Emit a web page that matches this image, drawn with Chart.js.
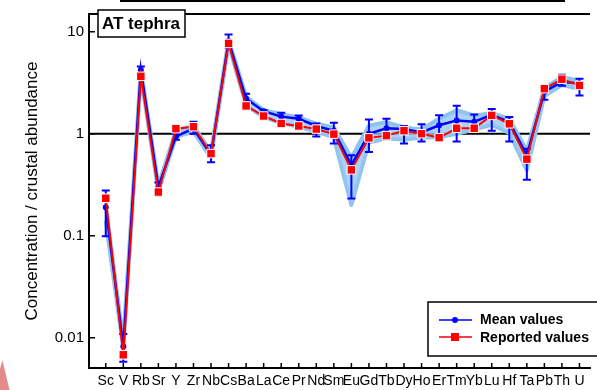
<!DOCTYPE html>
<html>
<head>
<meta charset="utf-8">
<script src="https://cdn.jsdelivr.net/npm/chart.js@4.4.0/dist/chart.umd.min.js"></script>
<style>
  body { margin: 0; background: #fff; overflow: hidden; }
  #wrap { position: relative; width: 597px; height: 390px; }
  #topBar { position: absolute; left: 120px; top: 0; width: 445px; height: 2px; background: #000; }
  #pink { position: absolute; left: 0; top: 355px; width: 12px; height: 35px; background: #e38a8a;
          clip-path: polygon(0 40%, 20% 15%, 80% 100%, 0 100%); }
</style>
</head>
<body>
<div id="wrap">
  <canvas id="chart" width="597" height="390"></canvas>
  <div id="topBar"></div>
  <div id="pink"></div>
</div>
<script>
// element order along the x axis
const elements = ['Sc', 'V', 'Rb', 'Sr', 'Y', 'Zr', 'Nb', 'Cs', 'Ba', 'La', 'Ce', 'Pr', 'Nd', 'Sm',
  'Eu', 'Gd', 'Tb', 'Dy', 'Ho', 'Er', 'Tm', 'Yb', 'Lu', 'Hf', 'Ta', 'Pb', 'Th', 'U'];

// mean of the samples (blue) and its error bar ends
const meanValues = [0.19, 0.0082, 4.2, 0.30, 0.94, 1.12, 0.62, 8.1, 2.2, 1.66, 1.47, 1.40, 1.19, 1.07,
  0.49, 1.0, 1.13, 1.11, 1.03, 1.21, 1.35, 1.31, 1.53, 1.30, 0.615, 2.58, 3.22, 3.10];
const meanHigh = [0.278, 0.0109, 4.56, 0.332, 1.0, 1.31, 0.77, 9.36, 2.47, 1.70, 1.60, 1.51, 1.26, 1.28,
  0.615, 1.38, 1.40, 1.19, 1.24, 1.52, 1.88, 1.54, 1.75, 1.46, 0.71, 2.9, 3.79, 3.46];
const meanLow = [0.099, 0.0058, 3.9, 0.28, 0.87, 1.0, 0.524, 7.0, 1.95, 1.40, 1.28, 1.15, 0.94, 0.80,
  0.231, 0.66, 0.89, 0.80, 0.84, 0.99, 0.84, 1.15, 1.07, 0.84, 0.354, 2.15, 2.95, 2.37];

// reported values (red)
const reportedValues = [0.233, 0.0068, 3.65, 0.268, 1.12, 1.17, 0.638, 7.67, 1.87, 1.49, 1.26, 1.19, 1.11, 0.99,
  0.442, 0.91, 0.957, 1.07, 1.0, 0.915, 1.13, 1.13, 1.51, 1.25, 0.563, 2.76, 3.42, 2.97];

// envelope of the individual sample lines (light blue)
const samplesHigh = [0.20, 0.0092, 4.3, 0.31, 1.08, 1.2, 0.66, 8.3, 2.3, 1.7, 1.55, 1.45, 1.25, 1.15,
  0.58, 1.2, 1.3, 1.15, 1.1, 1.4, 1.7, 1.5, 1.6, 1.4, 0.68, 2.8, 3.6, 3.3];
const samplesLow = [0.14, 0.0078, 3.7, 0.27, 0.93, 1.05, 0.58, 7.4, 1.9, 1.45, 1.27, 1.17, 1.05, 0.92,
  0.2, 0.82, 0.9, 0.87, 0.92, 0.92, 1.0, 1.1, 1.22, 1.02, 0.44, 2.35, 3.0, 2.75];

const yTicks = [0.01, 0.1, 1, 10];
const yTickLabels = ['0.01', '0.1', '1', '10'];

const toPoints = arr => arr.map((v, i) => ({ x: i, y: v }));

// ‚úÖ error bars, reference line, inward ticks, labels
const decorPlugin = {
  id: 'decor',
  beforeDatasetsDraw(chart) {
    const { ctx, chartArea, scales } = chart;
    const y1 = scales.y.getPixelForValue(1);
    ctx.save();
    ctx.strokeStyle = '#000';
    ctx.lineWidth = 2;
    ctx.beginPath();
    ctx.moveTo(chartArea.left, y1);
    ctx.lineTo(chartArea.right, y1);
    ctx.stroke();
    ctx.restore();
  },
  afterDatasetDraw(chart, args) {
    if (args.index !== 1) return;
    const { ctx, scales } = chart;
    ctx.save();
    ctx.strokeStyle = '#0000ff';
    ctx.lineWidth = 2;
    meanValues.forEach((v, i) => {
      const x = scales.x.getPixelForValue(i);
      const yh = scales.y.getPixelForValue(meanHigh[i]);
      const yl = scales.y.getPixelForValue(meanLow[i]);
      ctx.beginPath();
      ctx.moveTo(x, yh); ctx.lineTo(x, yl);
      ctx.moveTo(x - 4, yh); ctx.lineTo(x + 4, yh);
      ctx.moveTo(x - 4, yl); ctx.lineTo(x + 4, yl);
      ctx.stroke();
    });
    ctx.restore();
  },
  afterDraw(chart) {
    const { ctx, chartArea, scales } = chart;
    ctx.save();
    ctx.strokeStyle = '#000';
    // plot frame top
    ctx.lineWidth = 2;
    ctx.beginPath();
    ctx.moveTo(chartArea.left - 1, chartArea.top);
    ctx.lineTo(chartArea.right, chartArea.top);
    ctx.stroke();
    // inward tick marks
    ctx.lineWidth = 1.5;
    ctx.beginPath();
    elements.forEach((e, i) => {
      const x = scales.x.getPixelForValue(i);
      ctx.moveTo(x, chartArea.bottom);
      ctx.lineTo(x, chartArea.bottom - 5);
    });
    yTicks.forEach(v => {
      const y = scales.y.getPixelForValue(v);
      ctx.moveTo(chartArea.left, y);
      ctx.lineTo(chartArea.left + 6, y);
    });
    ctx.stroke();

    // sample label box
    ctx.fillStyle = '#fff';
    ctx.fillRect(98, 10, 87, 27);
    ctx.lineWidth = 1.5;
    ctx.strokeRect(98, 10, 87, 27);
    ctx.fillStyle = '#000';
    ctx.font = 'bold 17px "Liberation Sans", Arial, sans-serif';
    ctx.textBaseline = 'middle';
    ctx.fillText('AT tephra', 102, 24);

    // legend
    ctx.fillStyle = '#fff';
    ctx.fillRect(428, 302, 180, 54);
    ctx.strokeStyle = '#000';
    ctx.lineWidth = 1.5;
    ctx.strokeRect(428, 302, 180, 54);
    ctx.lineWidth = 1.5;
    ctx.strokeStyle = '#0000ff';
    ctx.beginPath(); ctx.moveTo(439, 320); ctx.lineTo(472, 320); ctx.stroke();
    ctx.fillStyle = '#0000ff';
    ctx.beginPath(); ctx.arc(455, 320, 3, 0, Math.PI * 2); ctx.fill();
    ctx.strokeStyle = '#ff0000';
    ctx.beginPath(); ctx.moveTo(439, 337); ctx.lineTo(472, 337); ctx.stroke();
    ctx.fillStyle = '#ff0000';
    ctx.fillRect(451, 333, 8, 8);
    ctx.fillStyle = '#000';
    ctx.font = 'bold 14px "Liberation Sans", Arial, sans-serif';
    ctx.fillText('Mean values', 480, 320);
    ctx.fillText('Reported values', 480, 338);
    ctx.restore();
  }
};

new Chart(document.getElementById('chart'), {
  type: 'line',
  data: {
    datasets: [
      {
        label: 'Reported values',
        data: toPoints(reportedValues),
        borderColor: '#ff0000',
        borderWidth: 2,
        pointStyle: 'rect',
        pointRadius: 6,
        pointBackgroundColor: '#ff0000',
        pointBorderColor: '#ffffff',
        pointBorderWidth: 1,
        order: 0
      },
      {
        label: 'Mean values',
        data: toPoints(meanValues),
        borderColor: '#0000ff',
        borderWidth: 2.5,
        pointRadius: 3,
        pointBackgroundColor: '#0000ff',
        pointBorderWidth: 0,
        order: 1
      },
      {
        label: 'samples high',
        data: toPoints(samplesHigh),
        borderColor: '#8fc3ef',
        borderWidth: 4,
        borderJoinStyle: 'round',
        pointRadius: 0,
        backgroundColor: 'rgba(150,200,242,0.8)',
        fill: '+1',
        order: 2
      },
      {
        label: 'samples low',
        data: toPoints(samplesLow),
        borderColor: '#8fc3ef',
        borderWidth: 4,
        borderJoinStyle: 'round',
        pointRadius: 0,
        fill: false,
        order: 3
      }
    ]
  },
  options: {
    responsive: false,
    animation: false,
    layout: { padding: { top: 6, left: 0, right: 0, bottom: 0 } },
    plugins: { legend: { display: false }, tooltip: { enabled: false } },
    scales: {
      x: {
        type: 'linear',
        min: -0.955,
        max: 27.6,
        afterFit: scale => { scale.height = 22; },
        afterBuildTicks: scale => { scale.ticks = elements.map((e, i) => ({ value: i })); },
        grid: { display: false, drawTicks: false },
        border: { display: true, color: '#000', width: 2 },
        ticks: {
          autoSkip: false,
          maxRotation: 0,
          minRotation: 0,
          padding: 5,
          color: '#000',
          font: { family: '"Liberation Sans", Arial, sans-serif', size: 14 },
          callback: v => elements[Math.round(v)]
        }
      },
      y: {
        type: 'logarithmic',
        min: 0.00505,
        max: 14.9,
        afterFit: scale => { scale.width = 89; },
        afterBuildTicks: scale => { scale.ticks = yTicks.map(v => ({ value: v })); },
        grid: { display: false, drawTicks: false },
        border: { display: true, color: '#000', width: 2 },
        ticks: {
          padding: 5,
          color: '#000',
          font: { family: '"Liberation Sans", Arial, sans-serif', size: 15 },
          callback: (v, i) => yTickLabels[yTicks.indexOf(v)]
        },
        title: {
          display: true,
          text: 'Concentration / crustal abundance',
          color: '#000',
          font: { family: '"Liberation Sans", Arial, sans-serif', size: 17 },
          padding: { top: 22, bottom: 0 }
        }
      }
    }
  },
  plugins: [decorPlugin]
});
</script>
</body>
</html>
